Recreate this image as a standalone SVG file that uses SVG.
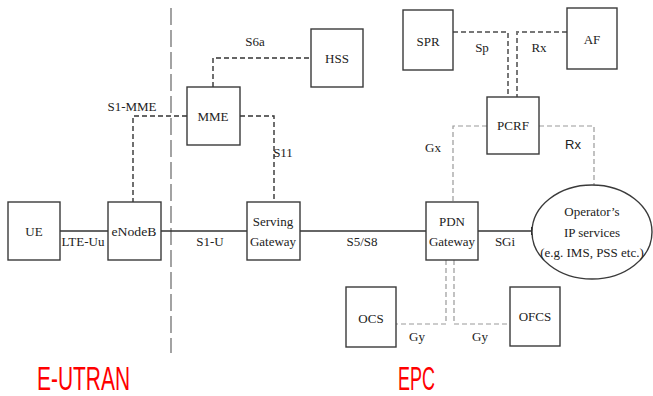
<svg xmlns="http://www.w3.org/2000/svg" width="653" height="396" viewBox="0 0 653 396">
<style>
.box{fill:#fff;stroke:#3a3a3a;stroke-width:1.4}
.t{font-family:"Liberation Serif","Times New Roman",serif;font-size:13px;fill:#222;text-anchor:middle}
.solid{stroke:#333;stroke-width:1.4;fill:none}
.dk{stroke:#333;stroke-width:1.4;fill:none;stroke-dasharray:5 3}
.dg{stroke:#777;stroke-width:2;fill:none;stroke-dasharray:5 3}
.lg{stroke:#999;stroke-width:1.2;fill:none;stroke-dasharray:5 3}
.red{font-family:"Liberation Sans",Arial,sans-serif;font-size:34px;fill:#ff0000}
</style>
<rect width="653" height="396" fill="#fff"/>
<line x1="171" y1="8" x2="171" y2="353" stroke="#666" stroke-width="1.2" stroke-dasharray="17 5"/>
<g id="connectors">
<line class="solid" x1="60" y1="231" x2="108" y2="231"/>
<line class="solid" x1="161" y1="231" x2="247" y2="231"/>
<line class="solid" x1="300" y1="231" x2="426" y2="231"/>
<line class="solid" x1="478" y1="231" x2="532" y2="231"/>
<line x1="532" y1="227" x2="532" y2="235" stroke="#222" stroke-width="2"/>
<polyline class="dk" points="213,87 213,58 311,58"/>
<polyline class="dk" points="187,116 133,116 133,202"/>
<polyline class="dk" points="240,116 274,116 274,202"/>
<polyline class="dg" points="453,32 508,32 508,97"/>
<polyline class="dg" points="567,32 517,32 517,97"/>
<polyline class="lg" points="487,126 453,126 453,202"/>
<polyline class="lg" points="539,126 594,126 594,185"/>
<polyline class="lg" points="446,260 446,324 396,324"/>
<polyline class="lg" points="454,260 454,324 510,324"/>
<text class="t" x="83" y="246">LTE-Uu</text>
<text class="t" x="210" y="246">S1-U</text>
<text class="t" x="362" y="246">S5/S8</text>
<text class="t" x="505" y="246">SGi</text>
<text class="t" x="255" y="46">S6a</text>
<text class="t" x="132" y="111">S1-MME</text>
<text class="t" x="283" y="157">S11</text>
<text class="t" x="482" y="52">Sp</text>
<text class="t" x="539" y="52">Rx</text>
<text class="t" x="433" y="152">Gx</text>
<text x="573" y="149" font-family="Liberation Sans,Arial,sans-serif" font-size="13" fill="#222" text-anchor="middle">Rx</text>
<text class="t" x="417" y="341">Gy</text>
<text class="t" x="480" y="341">Gy</text>
</g>
<g id="ue"><rect class="box" x="8" y="202" width="52" height="58"/><text class="t" x="34" y="236">UE</text></g>
<g id="enodeb"><rect class="box" x="108" y="202" width="53" height="58"/><text class="t" x="134" y="236" textLength="45" lengthAdjust="spacingAndGlyphs">eNodeB</text></g>
<g id="mme"><rect class="box" x="187" y="87" width="53" height="58"/><text class="t" x="213" y="121">MME</text></g>
<g id="hss"><rect class="box" x="311" y="29" width="52" height="58"/><text class="t" x="337" y="63">HSS</text></g>
<g id="sgw"><rect class="box" x="247" y="202" width="53" height="58"/><text class="t" x="273" y="226">Serving</text><text class="t" x="273" y="246">Gateway</text></g>
<g id="pgw"><rect class="box" x="426" y="202" width="52" height="58"/><text class="t" x="452" y="226">PDN</text><text class="t" x="452" y="246">Gateway</text></g>
<g id="spr"><rect class="box" x="403" y="10" width="50" height="60"/><text class="t" x="428" y="46">SPR</text></g>
<g id="af"><rect class="box" x="567" y="8" width="50" height="61"/><text class="t" x="592" y="44">AF</text></g>
<g id="pcrf"><rect class="box" x="487" y="97" width="52" height="57"/><text class="t" x="513" y="130">PCRF</text></g>
<g id="ocs"><rect class="box" x="346" y="287" width="50" height="60"/><text class="t" x="371" y="323">OCS</text></g>
<g id="ofcs"><rect class="box" x="510" y="287" width="50" height="59"/><text class="t" x="535" y="321">OFCS</text></g>
<g id="ops"><ellipse class="box" cx="592" cy="232" rx="60" ry="47"/>
<text class="t" x="592" y="216" font-size="14">Operator’s</text>
<text class="t" x="592" y="237" font-size="14">IP services</text>
<text class="t" x="592" y="257" font-size="14">(e.g. IMS, PSS etc.)</text></g>
<text class="red" x="37" y="390" textLength="93" lengthAdjust="spacingAndGlyphs">E-UTRAN</text>
<text class="red" x="398" y="390" textLength="37" lengthAdjust="spacingAndGlyphs">EPC</text>
</svg>
